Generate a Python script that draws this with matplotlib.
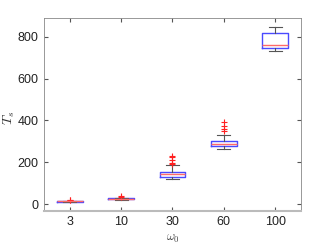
import matplotlib.pyplot as plt
import numpy as np

# box statistics
omega = ['3', '10', '30', '60', '100']
q1 = [10, 22, 131, 278, 746]
med = [12, 25, 142, 286, 762]
q3 = [14, 27, 155, 303, 818]
wlo = [8, 18, 118, 262, 730]
whi = [16, 31, 185, 329, 847]
fliers = [[17, 19], [33, 36], [190, 195, 210, 225, 231], [350, 361, 374, 390], []]

plt.rcParams['font.family'] = ['Liberation Sans', 'DejaVu Sans']
plt.rcParams['mathtext.fontset'] = 'cm'

stats = []
for i in range(len(omega)):
    stats.append(dict(q1=q1[i], med=med[i], q3=q3[i], whislo=wlo[i],
                      whishi=whi[i], fliers=fliers[i], label=omega[i]))

fig = plt.figure(figsize=(3.32, 2.49), dpi=100)
ax = fig.add_axes([0.133, 0.153, 0.773, 0.775])
ax.bxp(stats, positions=np.arange(1, 6), widths=0.5, capwidths=0.25,
       boxprops=dict(color='#4a4aff', linewidth=1.0),
       medianprops=dict(color='#ff6a6a', linewidth=1.0),
       whiskerprops=dict(color='#555555', linewidth=0.8),
       capprops=dict(color='#555555', linewidth=0.8),
       flierprops=dict(marker='+', markeredgecolor='#ff2020', markersize=5, markeredgewidth=0.8))

ax.set_xlim(0.5, 5.5)
ax.set_ylim(-33, 890)
ax.set_yticks([0, 200, 400, 600, 800])
ax.tick_params(direction='in', length=3, labelsize=9, color='#555555',
               top=True, right=True, labelcolor='#222222', pad=4)
for s in ['top', 'right', 'left']:
    ax.spines[s].set_color('#888888')
    ax.spines[s].set_linewidth(0.6)
ax.spines['bottom'].set_color('#bbbbbb')
ax.spines['bottom'].set_linewidth(1.5)
ax.set_xlabel(r'$\omega_0$', fontsize=9, color='#444444', labelpad=3)
ax.set_ylabel(r'$T_s$', fontsize=10, color='#333333')
ax.yaxis.set_label_coords(-0.105, 0.48)
fig.savefig('out.png', dpi=100)
